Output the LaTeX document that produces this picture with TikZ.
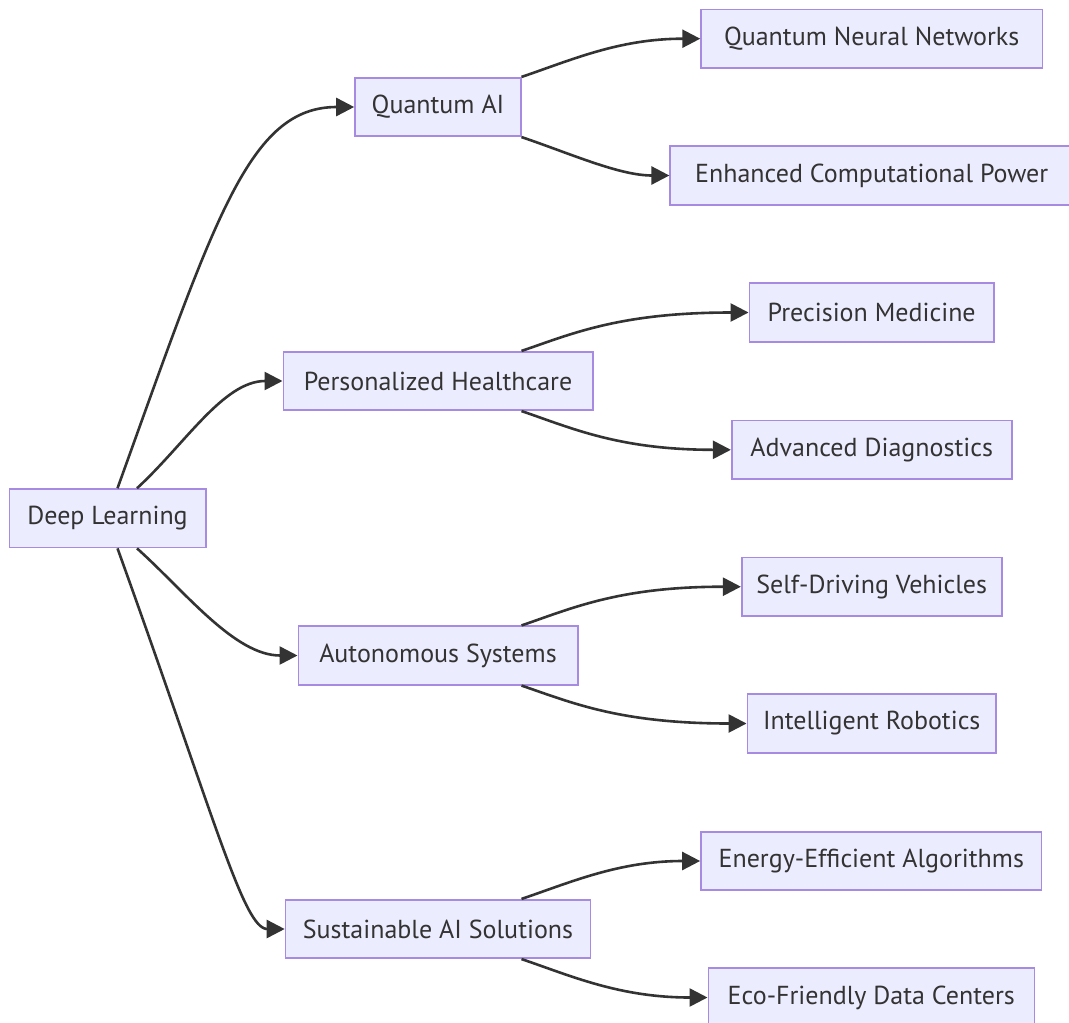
\documentclass[tikz,border=0pt]{standalone}
\usepackage{fontspec}
\setmainfont{PT Sans}
\usetikzlibrary{arrows.meta,calc}
\definecolor{nodefill}{HTML}{ECECFF}
\definecolor{nodeline}{HTML}{A78BE3}
\definecolor{ink}{HTML}{333333}
\begin{document}
\begin{tikzpicture}[x=1pt,y=-1pt,
  box/.style={draw=nodeline, fill=nodefill, line width=1.6pt,
    minimum height=58.5pt, inner sep=0pt, text=ink,
    font=\fontsize{26}{30}\selectfont},
  link/.style={draw=ink, line width=2.6pt,
    -{Triangle[length=18pt,width=18pt]}}]
\useasboundingbox (0,0) rectangle (1069,1023);

% root
\node[box, minimum width=196.4pt] (dl) at (107.5,518.3) {Deep Learning};

% branches
\node[box, minimum width=166pt]   (qai) at (438,107)   {Quantum AI};
\node[box, minimum width=309.4pt] (ph)  at (438,381)   {Personalized Healthcare};
\node[box, minimum width=279.4pt] (as)  at (438,655.5) {Autonomous Systems};
\node[box, minimum width=305pt]   (sus) at (438,929)   {Sustainable AI Solutions};

% leaves
\node[box, minimum width=341.3pt] (qnn) at (871.7,38.7)  {Quantum Neural Networks};
\node[box, minimum width=403pt]   (ecp) at (871.7,175.5) {Enhanced Computational Power};
\node[box, minimum width=244.7pt] (pm)  at (871.7,312.5) {Precision Medicine};
\node[box, minimum width=280pt]   (ad)  at (871.7,449.8) {Advanced Diagnostics};
\node[box, minimum width=260pt]   (sdv) at (871.7,586.7) {Self-Driving Vehicles};
\node[box, minimum width=248.7pt] (ir)  at (871.7,723.5) {Intelligent Robotics};
\node[box, minimum width=340.7pt] (eea) at (871.3,861)   {Energy-Efficient Algorithms};
\node[box, minimum width=326pt]   (efd) at (871.3,997.5) {Eco-Friendly Data Centers};

% root to branches
\draw[link] ([xshift=10pt]dl.north) .. controls +(98,-272) and +(-105,0) .. (qai.west);
\draw[link] ([xshift=29.5pt]dl.north) .. controls +(48,-44) and +(-59,0) .. (ph.west);
\draw[link] ([xshift=29.5pt]dl.south) .. controls +(48,43) and +(-63,0) .. (as.west);
\draw[link] ([xshift=10pt]dl.south) .. controls +(98,272) and +(-41,0) .. (sus.west);

% branches to leaves
\draw[link] ([xshift=83.5pt]qai.north) .. controls +(50,-17) and +(-81,0) .. (qnn.west);
\draw[link] ([xshift=83.5pt]qai.south) .. controls +(50,17) and +(-50,0) .. (ecp.west);
\draw[link] ([xshift=83.5pt]ph.north) .. controls +(50,-17) and +(-129,0) .. (pm.west);
\draw[link] ([xshift=83.5pt]ph.south) .. controls +(50,17) and +(-112,0) .. (ad.west);
\draw[link] ([xshift=83.5pt]as.north) .. controls +(50,-17) and +(-122,0) .. (sdv.west);
\draw[link] ([xshift=83.5pt]as.south) .. controls +(50,17) and +(-127,0) .. (ir.west);
\draw[link] ([xshift=83.5pt]sus.north) .. controls +(50,-17) and +(-81,0) .. (eea.west);
\draw[link] ([xshift=83.5pt]sus.south) .. controls +(50,17) and +(-88,0) .. (efd.west);
\end{tikzpicture}
\end{document}
